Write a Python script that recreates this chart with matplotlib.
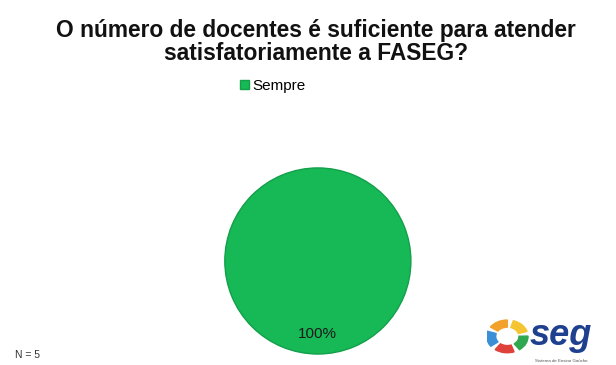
import matplotlib
matplotlib.use("Agg")
import matplotlib.pyplot as plt
from matplotlib.patches import Wedge

categories = ["Sempre"]
values = [5]
title = "O número de docentes é suficiente para atender\nsatisfatoriamente a FASEG?"
n_text = "N = 5"

plt.rcParams['font.family'] = ['Liberation Sans', 'DejaVu Sans']

fig = plt.figure(figsize=(6.16, 3.65), dpi=100)
fig.patch.set_facecolor('white')

fig.text(0.513, 0.948, title, ha='center', va='top', fontsize=16.4,
         fontweight='bold', linespacing=1.0, color='#111111')

# pie axes
ax = fig.add_axes([0.516 - 0.30, 0.025, 0.60, 0.52])
wedges, texts, autotexts = ax.pie(values, colors=['#17B856'], startangle=90,
                                  counterclock=False,
                                  autopct=lambda p: f"{p:.0f}%", pctdistance=0.78,
                                  wedgeprops=dict(edgecolor='#12a04a', linewidth=1.0),
                                  textprops=dict(fontsize=11, color='#1a1a1a'))
ax.set_aspect('equal')
ax.set_xlim(-1.02, 1.02)
ax.set_ylim(-1.02, 1.02)

# legend
leg = fig.legend(wedges, categories, loc='center', bbox_to_anchor=(0.443, 0.765),
                 frameon=False, fontsize=11, handlelength=0.6, handleheight=0.6,
                 handletextpad=0.2)

fig.text(0.024, 0.027, n_text, fontsize=7.5, color='#333333', ha='left', va='center')

# simple SEG logo
lax = fig.add_axes([0.79, 0.0, 0.21, 0.14])
lax.set_xlim(0, 10)
lax.set_ylim(0, 5)
lax.axis('off')
cols = ['#f2a22a', '#3a8fd6', '#e0403a', '#2fa84f', '#f5c531']
for i, c in enumerate(cols):
    a = 90 + i * 72
    lax.add_patch(Wedge((1.6, 2.8), 1.6, a, a + 55, width=0.7, color=c))
lax.text(3.3, 2.9, "seg", fontsize=26, fontweight='bold', fontstyle='italic',
         color='#1f3f8f', ha='left', va='center')
lax.text(3.7, 0.35, "Sistema de Ensino Gaúcho", fontsize=3.2, color='#555555',
         ha='left', va='center')

fig.savefig("out.png", dpi=100, facecolor='white')
